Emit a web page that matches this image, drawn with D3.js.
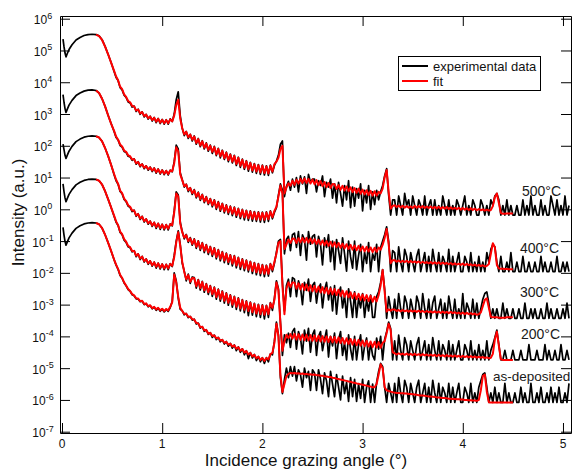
<!DOCTYPE html>
<html><head><meta charset="utf-8">
<script src="https://cdn.jsdelivr.net/npm/d3@7"></script>
<style>html,body{margin:0;padding:0;background:#fff;}svg{display:block;font-family:"Liberation Sans",Arial,sans-serif;}</style>
</head><body>
<svg id="chart" width="572" height="472"></svg>
<script>
// Incidence grazing angle (deg) shared by every measured curve
const angles = [0.01,0.02,0.03,0.04,0.05,0.07,0.10,0.14,0.18,0.22,0.26,0.30,0.34,0.37,0.40,0.43,0.46,0.49,
0.52,0.54,0.56,0.58,0.60,0.62,0.64,0.66,0.68,0.70,
0.72,0.74,0.76,0.78,0.80,0.82,0.84,0.86,0.88,0.90,
0.92,0.94,0.96,0.98,1.00,1.02,1.04,1.06,1.08,1.10,
1.12,1.14,1.16,1.18,1.20,1.22,1.24,1.26,1.28,1.30,
1.32,1.34,1.36,1.38,1.40,1.42,1.44,1.46,1.48,1.50,
1.52,1.54,1.56,1.58,1.60,1.62,1.64,1.66,1.68,1.70,
1.72,1.74,1.76,1.78,1.80,1.82,1.84,1.86,1.88,1.90,
1.92,1.94,1.96,1.98,2.00,2.02,2.04,2.06,2.08,2.10,
2.12,2.14,2.16,2.18,2.20,2.22,2.24,2.26,2.28,2.30,
2.32,2.34,2.36,2.38,2.40,2.42,2.44,2.46,2.48,2.50,
2.52,2.54,2.56,2.58,2.60,2.62,2.64,2.66,2.68,2.70,
2.72,2.74,2.76,2.78,2.80,2.82,2.84,2.86,2.88,2.90,
2.92,2.94,2.96,2.98,3.00,3.02,3.04,3.06,3.08,3.10,
3.12,3.14,3.16,3.18,3.20,3.22,3.24,3.26,3.28,3.30,
3.32,3.34,3.36,3.38,3.40,3.42,3.44,3.46,3.48,3.50,
3.52,3.54,3.56,3.58,3.60,3.62,3.64,3.66,3.68,3.70,
3.72,3.74,3.76,3.78,3.80,3.82,3.84,3.86,3.88,3.90,
3.92,3.94,3.96,3.98,4.00,4.02,4.04,4.06,4.08,4.10,
4.12,4.14,4.16,4.18,4.20,4.22,4.24,4.26,4.28,4.30,
4.32,4.34,4.36,4.38,4.40,4.42,4.44,4.46,4.48,4.50,
4.52,4.54,4.56,4.58,4.60,4.62,4.64,4.66,4.68,4.70,
4.72,4.74,4.76,4.78,4.80,4.82,4.84,4.86,4.88,4.90,
4.92,4.94,4.96,4.98,5.00,5.02,5.04,5.06];
const FIT_START = 12; // fits begin at angle 0.34

// Intensities given as decade exponents (log10 of intensity, a.u.)
const exp500 = [5.36,5.12,4.92,4.80,4.88,5.03,5.18,5.33,5.41,5.47,5.50,5.51,5.50,5.46,5.34,5.13,4.88,4.62,
4.34,4.15,4.05,3.83,3.76,3.59,3.52,3.38,3.35,3.22,
3.25,3.08,3.15,2.99,3.07,2.91,2.99,2.84,2.93,2.78,
2.89,2.73,2.86,2.70,2.83,2.68,2.82,2.68,2.85,2.76,
3.00,3.45,3.70,2.95,2.55,2.32,2.45,2.23,2.36,2.15,
2.31,2.05,2.23,1.97,2.16,1.90,2.09,1.83,2.02,1.76,
1.98,1.69,1.92,1.62,1.86,1.57,1.80,1.50,1.74,1.46,
1.70,1.38,1.64,1.32,1.58,1.26,1.53,1.20,1.48,1.17,
1.44,1.13,1.41,1.10,1.39,1.08,1.37,1.07,1.39,1.15,
1.38,1.52,1.70,2.05,2.15,0.40,0.72,0.88,0.60,0.95,
0.70,1.00,0.55,1.05,0.80,1.02,0.50,1.10,0.85,0.95,
0.95,0.55,0.90,0.75,1.05,0.40,0.85,0.70,0.95,0.35,
0.80,0.20,0.85,0.50,0.10,0.75,0.30,0.90,0.05,0.70,
0.10,0.65,0.35,0.80,-0.05,0.60,0.20,0.75,0.00,0.55,
0.15,0.60,0.30,0.55,0.75,1.05,1.28,0.45,-0.18,0.30,
0.30,-0.18,0.42,0.12,-0.18,0.50,0.12,0.30,-0.18,0.42,
0.12,-0.18,0.30,0.12,-0.18,0.42,-0.18,0.12,0.30,-0.18,
0.30,-0.18,0.12,-0.18,0.42,0.12,-0.18,0.30,-0.18,0.12,
-0.18,0.30,0.12,-0.18,0.12,0.42,-0.18,0.12,-0.18,0.30,
0.12,-0.18,-0.18,0.30,0.12,-0.18,0.12,-0.18,0.30,0.12,
0.42,0.50,0.30,-0.18,0.12,-0.18,0.30,-0.18,0.12,-0.18,
-0.18,0.12,-0.18,-0.18,0.30,-0.18,0.12,-0.18,0.42,-0.18,
0.12,-0.18,-0.18,0.30,-0.18,0.12,-0.18,-0.18,0.42,0.12,
-0.18,0.30,-0.18,0.12,-0.18,0.42,-0.18,0.12];
const fit500 = [5.50,5.45,5.33,5.12,4.88,4.62,
4.36,4.18,4.06,3.86,3.78,3.62,3.54,3.41,3.37,3.25,
3.24,3.11,3.14,3.02,3.06,2.94,2.98,2.87,2.92,2.81,
2.88,2.76,2.85,2.73,2.82,2.71,2.81,2.71,2.83,2.77,
2.95,3.28,3.45,2.85,2.55,2.36,2.44,2.27,2.35,2.19,
2.29,2.09,2.21,2.01,2.14,1.94,2.07,1.87,2.00,1.81,
1.96,1.73,1.90,1.67,1.84,1.61,1.78,1.55,1.72,1.50,
1.68,1.43,1.62,1.37,1.56,1.31,1.51,1.26,1.46,1.22,
1.42,1.19,1.39,1.16,1.37,1.14,1.35,1.13,1.37,1.19,
1.42,1.50,1.62,1.90,2.00,0.50,0.68,0.82,0.74,0.90,
0.77,0.93,0.81,0.96,0.83,0.97,0.83,0.96,0.81,0.94,
0.79,0.92,0.76,0.89,0.73,0.86,0.70,0.83,0.67,0.80,
0.79,0.64,0.76,0.61,0.74,0.59,0.72,0.57,0.69,0.54,
0.67,0.52,0.65,0.49,0.62,0.47,0.60,0.45,0.58,0.43,
0.57,0.43,0.55,0.50,0.65,1.00,1.24,0.55,0.02,0.10,
0.13,0.07,0.12,0.06,0.11,0.05,0.10,0.05,0.09,0.04,
0.11,0.05,0.10,0.05,0.10,0.04,0.09,0.04,0.09,0.03,
0.08,0.03,0.08,0.02,0.07,0.02,0.07,0.01,0.06,0.01,
0.05,0.00,0.05,-0.01,0.04,-0.01,0.03,-0.02,0.03,-0.02,
0.02,-0.03,0.01,-0.03,0.00,-0.04,-0.01,-0.04,-0.02,0.10,
0.38,0.50,0.20,-0.12,-0.14,-0.14,-0.13,-0.13,-0.13,-0.13];

const exp400 = [3.61,3.37,3.17,3.05,3.13,3.28,3.43,3.58,3.66,3.72,3.75,3.76,3.74,3.66,3.48,3.24,2.96,2.70,
2.45,2.26,2.18,2.01,1.96,1.82,1.79,1.67,1.65,1.54,
1.59,1.42,1.50,1.34,1.43,1.28,1.37,1.23,1.33,1.19,
1.30,1.14,1.27,1.11,1.24,1.09,1.22,1.08,1.23,1.18,
1.50,2.02,1.90,1.15,0.93,0.70,0.79,0.56,0.68,0.47,
0.62,0.36,0.54,0.28,0.47,0.21,0.40,0.15,0.34,0.08,
0.30,0.00,0.24,-0.06,0.19,-0.11,0.14,-0.16,0.10,-0.20,
0.07,-0.25,0.03,-0.29,0.00,-0.33,-0.03,-0.35,-0.05,-0.37,
-0.07,-0.38,-0.08,-0.40,-0.09,-0.41,-0.08,-0.38,-0.05,-0.30,
-0.10,0.05,0.45,0.80,0.60,-1.40,-0.95,-0.85,-1.30,-0.80,
-0.75,-1.20,-0.70,-1.45,-0.80,-0.95,-1.60,-0.70,-1.10,-0.85,
-0.80,-1.50,-0.85,-1.10,-1.75,-0.90,-1.20,-0.80,-1.65,-1.00,
-1.90,-0.95,-1.30,-1.70,-0.90,-1.40,-1.95,-1.00,-1.50,-1.85,
-1.00,-1.90,-1.45,-1.10,-1.96,-1.35,-1.70,-1.05,-1.96,-1.40,
-1.60,-1.10,-1.96,-1.20,-1.00,-0.80,-0.55,-1.00,-1.96,-1.30,
-1.36,-1.96,-1.18,-1.66,-1.96,-1.26,-1.48,-1.96,-1.36,-1.66,
-1.96,-1.48,-1.26,-1.96,-1.66,-1.36,-1.96,-1.48,-1.96,-1.26,
-1.66,-1.96,-1.36,-1.96,-1.48,-1.66,-1.96,-1.26,-1.96,-1.48,
-1.96,-1.66,-1.36,-1.96,-1.96,-1.48,-1.66,-1.96,-1.36,-1.96,
-1.66,-1.96,-1.48,-1.96,-1.66,-1.96,-1.36,-1.66,-1.26,-1.10,
-1.18,-1.66,-1.96,-1.48,-1.96,-1.96,-1.66,-1.96,-1.36,-1.96,
-1.96,-1.66,-1.96,-1.96,-1.48,-1.96,-1.96,-1.66,-1.96,-1.96,
-1.66,-1.96,-1.96,-1.48,-1.96,-1.66,-1.96,-1.96,-1.66,-1.96,
-1.96,-1.48,-1.96,-1.96,-1.66,-1.96,-1.66,-1.96];
const fit400 = [3.74,3.66,3.48,3.24,2.96,2.70,
2.47,2.29,2.19,2.04,1.98,1.85,1.81,1.70,1.67,1.57,
1.58,1.45,1.49,1.37,1.42,1.31,1.36,1.26,1.32,1.22,
1.29,1.17,1.26,1.14,1.23,1.12,1.21,1.11,1.22,1.20,
1.45,1.95,1.82,1.10,0.92,0.73,0.78,0.60,0.67,0.51,
0.60,0.40,0.52,0.32,0.45,0.25,0.38,0.19,0.32,0.13,
0.28,0.05,0.22,-0.01,0.17,-0.06,0.12,-0.10,0.08,-0.14,
0.05,-0.19,0.01,-0.23,-0.02,-0.26,-0.05,-0.28,-0.07,-0.30,
-0.09,-0.32,-0.10,-0.33,-0.11,-0.33,-0.10,-0.31,-0.07,-0.25,
-0.05,0.08,0.40,0.75,0.50,-1.25,-1.10,-0.95,-1.06,-0.92,
-0.93,-1.06,-0.91,-1.04,-0.90,-1.04,-0.90,-1.05,-0.92,-1.07,
-0.94,-1.09,-0.96,-1.11,-0.98,-1.13,-1.00,-1.15,-1.02,-1.17,
-1.04,-1.19,-1.06,-1.21,-1.08,-1.23,-1.10,-1.25,-1.12,-1.27,
-1.14,-1.29,-1.15,-1.30,-1.17,-1.32,-1.18,-1.33,-1.20,-1.35,
-1.21,-1.34,-1.20,-1.27,-1.12,-0.90,-0.62,-1.10,-1.70,-1.60,
-1.60,-1.65,-1.61,-1.66,-1.62,-1.66,-1.62,-1.67,-1.63,-1.67,
-1.64,-1.68,-1.64,-1.69,-1.65,-1.69,-1.66,-1.70,-1.66,-1.71,
-1.67,-1.71,-1.67,-1.72,-1.68,-1.72,-1.69,-1.73,-1.69,-1.74,
-1.70,-1.74,-1.71,-1.75,-1.71,-1.76,-1.72,-1.76,-1.73,-1.77,
-1.74,-1.78,-1.75,-1.79,-1.76,-1.80,-1.78,-1.72,-1.40,-1.07,
-1.20,-1.75,-1.86,-1.87,-1.87,-1.88,-1.88,-1.89,-1.89,-1.89];

const exp300 = [2.05,1.88,1.70,1.60,1.68,1.83,1.98,2.13,2.21,2.27,2.30,2.31,2.30,2.26,2.14,1.93,1.68,1.40,
1.09,0.90,0.79,0.56,0.49,0.31,0.24,0.10,0.06,-0.07,
-0.03,-0.22,-0.14,-0.32,-0.22,-0.40,-0.30,-0.47,-0.37,-0.54,
-0.41,-0.60,-0.44,-0.63,-0.47,-0.65,-0.48,-0.65,-0.46,-0.52,
-0.05,0.55,0.45,-0.40,-0.70,-0.93,-0.79,-1.04,-0.89,-1.13,
-0.93,-1.23,-0.99,-1.29,-1.05,-1.36,-1.11,-1.42,-1.17,-1.48,
-1.21,-1.56,-1.27,-1.62,-1.33,-1.68,-1.38,-1.73,-1.43,-1.78,
-1.46,-1.84,-1.51,-1.89,-1.56,-1.93,-1.60,-1.97,-1.64,-2.02,
-1.68,-2.06,-1.71,-2.09,-1.74,-2.12,-1.76,-2.10,-1.71,-1.96,
-1.70,-1.35,-1.00,-0.95,-2.30,-3.20,-2.40,-2.20,-2.75,-2.15,
-2.20,-2.75,-2.25,-2.45,-3.00,-2.30,-2.55,-2.20,-2.90,-2.40,
-2.30,-2.95,-2.50,-2.35,-3.10,-2.55,-2.30,-2.85,-2.45,-3.20,
-2.40,-3.30,-2.65,-2.45,-3.10,-2.70,-3.40,-2.50,-2.90,-3.40,
-2.60,-3.40,-2.80,-3.10,-2.65,-3.40,-2.85,-3.20,-2.70,-3.40,
-3.40,-2.75,-2.60,-2.30,-1.90,-2.50,-3.43,-2.75,-3.13,-3.43,
-2.83,-3.43,-2.65,-3.13,-3.43,-2.73,-2.95,-3.43,-2.83,-3.13,
-3.43,-2.73,-2.95,-3.43,-2.65,-3.13,-3.43,-2.83,-3.43,-2.95,
-2.73,-3.43,-3.13,-2.83,-3.43,-2.95,-3.43,-2.73,-3.13,-3.43,
-2.83,-3.43,-3.13,-3.43,-2.65,-3.43,-2.95,-3.13,-3.43,-2.83,
-3.43,-2.95,-3.43,-3.13,-2.83,-2.65,-2.60,-2.95,-3.43,-3.13,
-3.43,-3.13,-3.43,-3.43,-2.95,-3.43,-3.13,-3.43,-3.43,-3.13,
-3.43,-3.43,-3.13,-3.43,-3.43,-2.95,-3.43,-3.43,-3.13,-3.43,
-3.13,-3.43,-3.43,-3.13,-3.43,-3.43,-2.95,-3.43,-3.13,-3.43,
-3.43,-3.13,-3.43,-3.43,-3.13,-3.43,-2.95,-3.43];
const fit300 = [2.30,2.26,2.14,1.93,1.68,1.40,
1.11,0.93,0.80,0.59,0.51,0.34,0.26,0.13,0.08,-0.04,
-0.04,-0.19,-0.15,-0.29,-0.23,-0.37,-0.31,-0.44,-0.38,-0.51,
-0.42,-0.56,-0.45,-0.59,-0.48,-0.61,-0.49,-0.61,-0.47,-0.50,
-0.10,0.50,0.40,-0.45,-0.72,-0.89,-0.81,-1.00,-0.91,-1.09,
-0.95,-1.18,-1.01,-1.24,-1.07,-1.30,-1.13,-1.36,-1.19,-1.42,
-1.23,-1.50,-1.29,-1.56,-1.35,-1.61,-1.40,-1.66,-1.45,-1.71,
-1.48,-1.77,-1.53,-1.81,-1.58,-1.86,-1.62,-1.90,-1.66,-1.94,
-1.70,-1.98,-1.73,-2.01,-1.76,-2.03,-1.78,-2.03,-1.73,-1.90,
-1.65,-1.40,-1.05,-1.00,-2.40,-3.30,-2.50,-2.30,-2.45,-2.30,
-2.31,-2.50,-2.33,-2.52,-2.35,-2.54,-2.37,-2.56,-2.39,-2.58,
-2.41,-2.60,-2.43,-2.62,-2.45,-2.64,-2.47,-2.66,-2.49,-2.68,
-2.51,-2.70,-2.53,-2.73,-2.56,-2.75,-2.58,-2.77,-2.61,-2.80,
-2.64,-2.83,-2.66,-2.85,-2.68,-2.87,-2.70,-2.89,-2.72,-2.91,
-2.75,-2.90,-2.70,-2.40,-1.91,-2.60,-3.22,-3.15,-3.19,-3.15,
-3.16,-3.20,-3.17,-3.21,-3.17,-3.21,-3.18,-3.22,-3.18,-3.22,
-3.19,-3.23,-3.19,-3.23,-3.20,-3.24,-3.20,-3.24,-3.21,-3.25,
-3.21,-3.25,-3.22,-3.26,-3.22,-3.26,-3.23,-3.27,-3.23,-3.27,
-3.24,-3.28,-3.25,-3.29,-3.25,-3.30,-3.26,-3.30,-3.27,-3.31,
-3.28,-3.32,-3.30,-3.25,-3.05,-2.85,-2.80,-3.10,-3.38,-3.40,
-3.40,-3.40,-3.41,-3.41,-3.41,-3.41,-3.40,-3.40,-3.40,-3.40];

const exp200 = [0.80,0.56,0.36,0.24,0.32,0.47,0.62,0.77,0.85,0.91,0.94,0.95,0.94,0.90,0.78,0.57,0.32,0.06,
-0.22,-0.41,-0.51,-0.73,-0.80,-0.97,-1.04,-1.18,-1.21,-1.34,
-1.30,-1.49,-1.40,-1.58,-1.48,-1.66,-1.56,-1.73,-1.62,-1.79,
-1.66,-1.85,-1.69,-1.88,-1.72,-1.90,-1.73,-1.90,-1.71,-1.80,
-1.45,-1.00,-0.68,-1.10,-1.70,-1.94,-2.25,-2.04,-2.33,-2.13,
-2.15,-2.48,-2.21,-2.54,-2.27,-2.61,-2.34,-2.68,-2.40,-2.74,
-2.45,-2.83,-2.51,-2.89,-2.57,-2.95,-2.63,-3.02,-2.69,-3.08,
-2.74,-3.15,-2.79,-3.20,-2.84,-3.25,-2.88,-3.35,-2.92,-3.33,
-2.96,-3.38,-2.99,-3.40,-3.01,-3.45,-3.02,-3.40,-2.94,-3.18,
-2.80,-2.25,-2.50,-3.55,-4.60,-3.95,-4.20,-3.90,-4.35,-3.85,
-3.75,-4.40,-3.85,-4.05,-4.55,-3.80,-4.15,-3.75,-4.50,-3.95,
-3.80,-4.60,-4.00,-3.85,-4.45,-4.10,-3.80,-4.65,-4.00,-4.30,
-3.90,-4.70,-4.10,-3.85,-4.60,-4.20,-4.74,-3.95,-4.40,-4.74,
-4.00,-4.74,-4.25,-3.95,-4.74,-4.30,-4.05,-4.74,-4.20,-4.60,
-4.74,-4.05,-4.40,-4.00,-4.74,-4.10,-3.85,-3.55,-3.75,-4.74,
-4.14,-4.74,-3.96,-4.44,-4.74,-4.04,-4.26,-4.74,-4.14,-4.44,
-4.74,-4.26,-4.04,-4.74,-4.44,-4.14,-4.74,-4.26,-4.74,-4.04,
-4.44,-4.74,-4.14,-4.74,-4.26,-4.44,-4.74,-4.14,-4.74,-4.26,
-4.74,-4.44,-4.14,-4.74,-4.74,-4.26,-4.44,-4.74,-4.14,-4.74,
-4.44,-4.74,-4.26,-4.74,-4.44,-4.74,-4.14,-4.74,-4.44,-4.26,
-4.04,-3.80,-4.26,-4.74,-4.74,-4.44,-4.74,-4.74,-4.74,-4.44,
-4.74,-4.74,-4.74,-4.44,-4.74,-4.74,-4.74,-4.26,-4.74,-4.74,
-4.74,-4.44,-4.74,-4.74,-4.74,-4.26,-4.74,-4.44,-4.74,-4.74,
-4.44,-4.74,-4.74,-4.26,-4.74,-4.74,-4.44,-4.74];
const fit200 = [0.94,0.90,0.78,0.57,0.32,0.06,
-0.20,-0.38,-0.50,-0.70,-0.78,-0.94,-1.02,-1.15,-1.19,-1.31,
-1.31,-1.46,-1.41,-1.55,-1.49,-1.63,-1.57,-1.70,-1.63,-1.76,
-1.67,-1.81,-1.70,-1.84,-1.73,-1.86,-1.74,-1.86,-1.72,-1.78,
-1.50,-1.05,-0.72,-1.15,-1.65,-1.97,-2.20,-2.07,-2.28,-2.16,
-2.17,-2.42,-2.23,-2.48,-2.29,-2.55,-2.36,-2.61,-2.42,-2.67,
-2.47,-2.76,-2.53,-2.82,-2.59,-2.88,-2.65,-2.94,-2.71,-3.00,
-2.76,-3.07,-2.81,-3.12,-2.86,-3.16,-2.90,-3.20,-2.94,-3.24,
-2.98,-3.28,-3.01,-3.30,-3.03,-3.32,-3.04,-3.30,-2.96,-3.10,
-2.85,-2.30,-2.55,-3.60,-4.45,-4.15,-3.95,-4.05,-3.93,-4.07,
-3.92,-4.10,-3.93,-4.11,-3.94,-4.12,-3.95,-4.13,-3.96,-4.14,
-3.97,-4.15,-3.98,-4.16,-3.99,-4.17,-4.00,-4.18,-4.01,-4.19,
-4.02,-4.20,-4.03,-4.21,-4.05,-4.23,-4.06,-4.24,-4.08,-4.26,
-4.10,-4.28,-4.11,-4.29,-4.13,-4.31,-4.14,-4.32,-4.16,-4.34,
-4.17,-4.35,-4.18,-4.36,-4.20,-4.15,-3.90,-3.60,-3.80,-4.50,
-4.53,-4.57,-4.53,-4.57,-4.54,-4.58,-4.54,-4.58,-4.55,-4.59,
-4.55,-4.59,-4.56,-4.60,-4.56,-4.60,-4.57,-4.61,-4.57,-4.61,
-4.58,-4.62,-4.58,-4.62,-4.59,-4.63,-4.59,-4.63,-4.60,-4.64,
-4.60,-4.64,-4.61,-4.65,-4.61,-4.65,-4.62,-4.66,-4.62,-4.66,
-4.63,-4.67,-4.64,-4.67,-4.65,-4.68,-4.66,-4.69,-4.67,-4.55,
-4.10,-3.85,-4.30,-4.72,-4.74,-4.74,-4.74,-4.74,-4.74,-4.74];

const expAsDep = [-0.57,-0.81,-1.01,-1.13,-1.05,-0.90,-0.75,-0.60,-0.52,-0.46,-0.43,-0.42,-0.43,-0.47,-0.59,-0.80,-1.05,-1.31,
-1.59,-1.76,-1.89,-2.08,-2.17,-2.32,-2.41,-2.53,-2.58,-2.69,
-2.72,-2.82,-2.82,-2.91,-2.89,-3.00,-2.97,-3.07,-3.03,-3.13,
-3.08,-3.18,-3.11,-3.21,-3.14,-3.23,-3.15,-3.21,-3.09,-2.90,
-2.00,-2.25,-2.80,-3.15,-3.19,-3.32,-3.28,-3.41,-3.37,-3.49,
-3.46,-3.61,-3.58,-3.74,-3.69,-3.84,-3.79,-3.94,-3.88,-4.03,
-3.96,-4.10,-4.03,-4.17,-4.10,-4.24,-4.16,-4.31,-4.22,-4.37,
-4.27,-4.45,-4.33,-4.50,-4.39,-4.58,-4.45,-4.70,-4.51,-4.68,
-4.57,-4.76,-4.63,-4.80,-4.67,-4.85,-4.67,-4.80,-4.55,-4.58,
-4.15,-3.55,-3.95,-5.30,-5.80,-5.35,-5.00,-5.30,-4.95,-5.25,
-4.95,-5.40,-5.05,-5.20,-5.60,-5.00,-5.30,-5.10,-5.70,-5.05,
-5.15,-5.70,-5.05,-5.35,-5.80,-5.15,-5.40,-5.90,-5.10,-5.50,
-5.90,-5.20,-5.60,-6.00,-5.25,-5.80,-5.45,-6.05,-5.30,-5.90,
-5.35,-6.05,-5.50,-5.95,-5.35,-6.08,-5.60,-5.40,-6.08,-5.50,
-6.08,-5.45,-5.10,-4.85,-4.95,-5.60,-6.08,-5.48,-5.78,-6.08,
-5.48,-6.08,-5.30,-5.78,-6.08,-5.38,-5.60,-6.08,-5.48,-5.78,
-6.08,-5.60,-5.38,-6.08,-5.78,-5.48,-6.08,-5.60,-6.08,-5.38,
-5.78,-6.08,-5.48,-6.08,-5.60,-5.78,-6.08,-5.48,-6.08,-5.60,
-6.08,-5.78,-5.48,-6.08,-6.08,-5.60,-5.78,-6.08,-5.48,-6.08,
-5.78,-6.08,-5.60,-5.40,-5.20,-5.15,-5.60,-6.08,-5.78,-6.08,
-5.60,-6.08,-5.78,-6.08,-6.08,-5.48,-6.08,-5.78,-6.08,-6.08,
-5.78,-6.08,-6.08,-5.60,-6.08,-5.78,-6.08,-6.08,-5.48,-6.08,
-6.08,-5.78,-6.08,-5.60,-6.08,-6.08,-5.78,-6.08,-5.60,-6.08,
-5.78,-6.08,-5.60,-6.08,-6.08,-5.78,-6.08,-5.48];
const fitAsDep = [-0.43,-0.47,-0.59,-0.80,-1.05,-1.31,
-1.58,-1.74,-1.88,-2.06,-2.16,-2.30,-2.40,-2.51,-2.57,-2.67,
-2.71,-2.80,-2.81,-2.89,-2.88,-2.98,-2.96,-3.05,-3.02,-3.11,
-3.07,-3.15,-3.10,-3.18,-3.13,-3.20,-3.14,-3.18,-3.07,-2.92,
-2.05,-2.30,-2.75,-3.10,-3.20,-3.29,-3.29,-3.38,-3.38,-3.46,
-3.47,-3.58,-3.59,-3.71,-3.70,-3.81,-3.80,-3.91,-3.89,-3.99,
-3.97,-4.06,-4.04,-4.13,-4.11,-4.20,-4.17,-4.26,-4.23,-4.32,
-4.28,-4.39,-4.34,-4.45,-4.40,-4.51,-4.46,-4.57,-4.52,-4.63,
-4.58,-4.69,-4.64,-4.74,-4.68,-4.77,-4.68,-4.72,-4.56,-4.52,
-4.20,-3.60,-4.00,-5.20,-5.75,-5.50,-5.25,-5.18,-5.15,-5.16,
-5.15,-5.17,-5.16,-5.18,-5.17,-5.19,-5.18,-5.20,-5.19,-5.21,
-5.20,-5.22,-5.22,-5.24,-5.24,-5.26,-5.26,-5.28,-5.28,-5.30,
-5.31,-5.33,-5.34,-5.36,-5.37,-5.39,-5.40,-5.42,-5.43,-5.45,
-5.46,-5.48,-5.49,-5.51,-5.52,-5.54,-5.55,-5.57,-5.58,-5.60,
-5.60,-5.50,-5.20,-4.88,-5.00,-5.60,-5.70,-5.72,-5.74,-5.76,
-5.77,-5.78,-5.78,-5.79,-5.79,-5.80,-5.80,-5.81,-5.81,-5.82,
-5.83,-5.84,-5.85,-5.86,-5.86,-5.87,-5.88,-5.89,-5.89,-5.90,
-5.91,-5.92,-5.92,-5.93,-5.94,-5.94,-5.95,-5.96,-5.96,-5.97,
-5.97,-5.98,-5.98,-5.99,-5.99,-6.00,-6.00,-6.01,-6.01,-6.02,
-6.02,-6.03,-6.00,-5.70,-5.25,-5.20,-5.75,-6.07,-6.08,-6.08,
-6.08,-6.08,-6.08,-6.08,-6.08,-6.08,-6.08,-6.08,-6.08,-6.08];

const sampleLabels = ["500°C","400°C","300°C","200°C","as-deposited"];
const xTickValues = [0,1,2,3,4,5];
const yTickExponents = [6,5,4,3,2,1,0,-1,-2,-3,-4,-5,-6,-7];
const legendLabels = ["experimental data","fit"];

const samples = [
  {label: sampleLabels[0], exp: exp500, fit: fit500, lx: 522, ly: 195.5, fs: 14},
  {label: sampleLabels[1], exp: exp400, fit: fit400, lx: 520, ly: 253, fs: 14},
  {label: sampleLabels[2], exp: exp300, fit: fit300, lx: 520, ly: 297, fs: 14},
  {label: sampleLabels[3], exp: exp200, fit: fit200, lx: 521, ly: 338.5, fs: 14},
  {label: sampleLabels[4], exp: expAsDep, fit: fitAsDep, lx: 493, ly: 381, fs: 13.5}
];

const L = 60, R = 571, T = 16, B = 433;
const svg = d3.select("#chart");
svg.append("rect").attr("width",572).attr("height",472).attr("fill","#fff");

const x = d3.scaleLinear().domain([-0.02, 5.08]).range([L, R]);
const y = d3.scaleLog().domain([Math.pow(10,-7.041), Math.pow(10,6.085)]).range([B, T]);

svg.append("defs").append("clipPath").attr("id","plotClip")
  .append("rect").attr("x",L).attr("y",T).attr("width",R-L).attr("height",B-T);

const line = d3.line().x(d => x(d[0])).y(d => y(d[1])).curve(d3.curveLinear);
const plot = svg.append("g").attr("clip-path","url(#plotClip)");

samples.forEach(s => {
  const expPts = s.exp.map((e,i) => [angles[i], Math.pow(10,e)]);
  const fitPts = s.fit.map((e,i) => [angles[FIT_START+i], Math.pow(10,e)]);
  plot.append("path").datum(expPts).attr("d",line)
    .attr("fill","none").attr("stroke","#000").attr("stroke-width",1.7).attr("stroke-linejoin","round");
  plot.append("path").datum(fitPts).attr("d",line)
    .attr("fill","none").attr("stroke","#ff0000").attr("stroke-width",2).attr("stroke-linejoin","round");
});

function styleAxis(g){
  g.selectAll("text").remove();
  g.selectAll("path,line").attr("stroke","#000").attr("stroke-width",1);
}
svg.append("g").attr("transform",`translate(0,${B})`)
  .call(d3.axisBottom(x).tickValues(xTickValues).tickSize(-10).tickSizeOuter(0).tickFormat(""))
  .call(styleAxis);
svg.append("g").attr("transform",`translate(0,${T})`)
  .call(d3.axisTop(x).tickValues(xTickValues).tickSize(-10).tickSizeOuter(0).tickFormat(""))
  .call(styleAxis);
const yTickVals = yTickExponents.map(e => Math.pow(10,e));
svg.append("g").attr("transform",`translate(${L},0)`)
  .call(d3.axisLeft(y).tickValues(yTickVals).tickSize(-10).tickSizeOuter(0).tickFormat(""))
  .call(styleAxis);
svg.append("g").attr("transform",`translate(${R},0)`)
  .call(d3.axisRight(y).tickValues(yTickVals).tickSize(-10).tickSizeOuter(0).tickFormat(""))
  .call(styleAxis);

// x tick labels
svg.append("g").selectAll("text").data(xTickValues).join("text")
  .attr("x", d => x(d)).attr("y", 447.5).attr("text-anchor","middle")
  .attr("font-size",12).attr("fill","#111").text(d => d);

// y tick labels with superscript exponents
const yl = svg.append("g").selectAll("text").data(yTickExponents).join("text")
  .attr("x", 43).attr("y", d => y(Math.pow(10,d)) + 5.5).attr("text-anchor","middle")
  .attr("fill","#111");
yl.append("tspan").attr("font-size",12).text("10");
yl.append("tspan").attr("font-size",9).attr("dy",-5.5).text(d => String(d));

// axis titles
svg.append("text").attr("x",306).attr("y",466).attr("text-anchor","middle")
  .attr("font-size",17).attr("fill","#111").text("Incidence grazing angle (°)");
svg.append("text").attr("transform","translate(24,212.5) rotate(-90)").attr("text-anchor","middle")
  .attr("font-size",17).attr("fill","#111").text("Intensity (a.u.)");

// sample labels
svg.append("g").selectAll("text").data(samples).join("text")
  .attr("x", d => d.lx).attr("y", d => d.ly).attr("font-size", d => d.fs).attr("fill","#1a1a1a")
  .text(d => d.label);

// legend
const lg = svg.append("g");
lg.append("rect").attr("x",398.5).attr("y",56.5).attr("width",142).attr("height",34)
  .attr("fill","#fff").attr("stroke","#000").attr("stroke-width",1);
const legendColors = ["#000","#ff0000"];
legendLabels.forEach((t,i) => {
  const yy = 66 + i*15;
  lg.append("line").attr("x1",402).attr("x2",428).attr("y1",yy).attr("y2",yy)
    .attr("stroke",legendColors[i]).attr("stroke-width",2);
  lg.append("text").attr("x",433).attr("y",yy+4.5).attr("font-size",13).attr("fill","#111").text(t);
});
</script>
</body></html>
